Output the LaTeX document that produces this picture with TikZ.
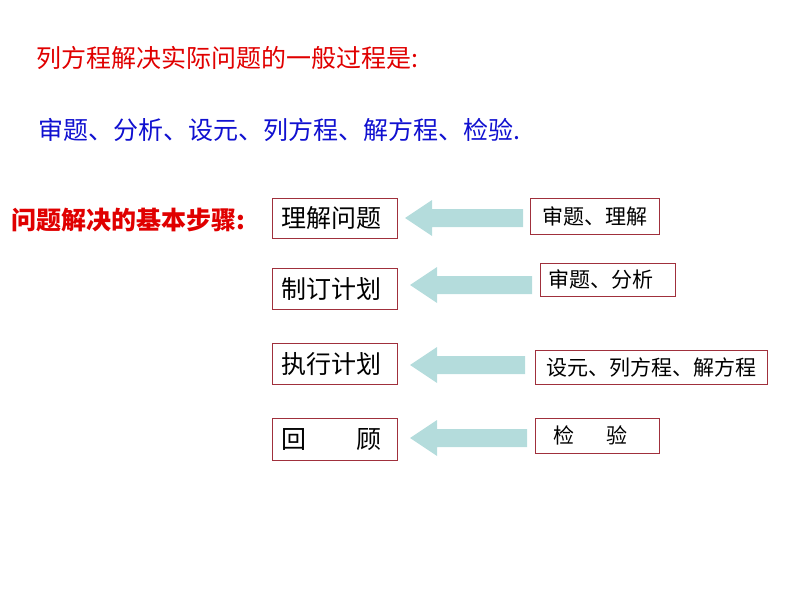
\documentclass[tikz,border=0pt]{standalone}
\usepackage{fontspec}
\setmainfont{Liberation Serif}
\newfontfamily\cjk{Noto Sans CJK SC}
\definecolor{arr}{HTML}{B4DCDC}
\definecolor{bd}{HTML}{A0303C}
\definecolor{tred}{HTML}{E00000}
\definecolor{tblue}{HTML}{1010D0}
\begin{document}
\begin{tikzpicture}[x=1pt,y=-1pt,
  bigbox/.style={draw=bd,line width=0.8pt,minimum height=40pt,minimum width=125pt,anchor=north west,inner sep=0pt,font=\cjk\fontsize{25}{25}\selectfont},
  smallbox/.style={draw=bd,line width=0.8pt,anchor=north west,inner sep=0pt,font=\cjk\fontsize{21}{21}\selectfont},
  fatarrow/.style={fill=arr,draw=none}]
\useasboundingbox (0,0) rectangle (794,596);
\node[anchor=west,text=tred,font=\cjk\fontsize{25}{25}\selectfont] (t1) at (33,58) {列方程解决实际问题的一般过程是:};
\node[anchor=west,text=tblue,font=\cjk\fontsize{25}{25}\selectfont] (t2) at (35,130) {审题、分析、设元、列方程、解方程、检验.};
\node[anchor=west,text=tred,font=\cjk\fontsize{25}{25}\selectfont\bfseries] (t3) at (8,220) {问题解决的基本步骤:};

\node[bigbox] (b1) at (272,198) {\hspace*{-6pt}理解问题};
\node[bigbox,minimum height=41pt] (b2) at (272,268) {\hspace*{-6pt}制订计划};
\node[bigbox,minimum height=41pt] (b3) at (272,343) {\hspace*{-6pt}执行计划};
\node[bigbox,minimum height=42pt] (b4) at (272,418) {\hspace*{-6pt}回\hspace{2em}顾};

\node[smallbox,minimum width=129pt,minimum height=36pt] (s1) at (530,198) {审题、理解};
\node[smallbox,minimum width=135pt,minimum height=33pt] (s2) at (540,263) {\hspace*{-14pt}审题、分析};
\node[smallbox,minimum width=232pt,minimum height=34pt] (s3) at (535,350) {设元、列方程、解方程};
\node[smallbox,minimum width=124pt,minimum height=35pt] (s4) at (535,418) {\hspace*{-14pt}检\hspace{1.5em}验};

\foreach \tip/\y/\e in {405/218/523, 410/285/532, 410/365/525, 410/438/527}{
  \fill[fatarrow] (\tip,\y) -- (\tip+27,\y-18) -- (\tip+27,\y-9) -- (\e,\y-9) -- (\e,\y+9) -- (\tip+27,\y+9) -- (\tip+27,\y+18) -- cycle;
}
\end{tikzpicture}
\end{document}
